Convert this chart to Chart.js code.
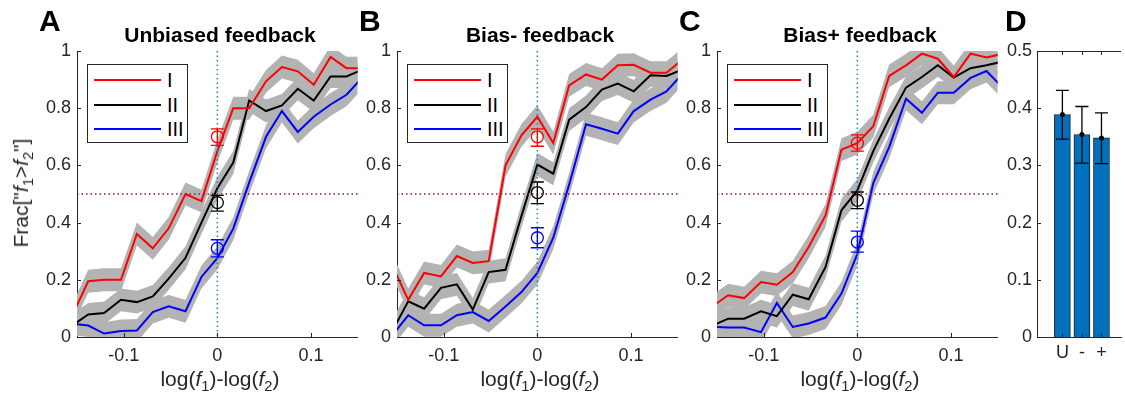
<!DOCTYPE html>
<html>
<head>
<meta charset="utf-8">
<script src="https://cdn.jsdelivr.net/npm/chart.js@4.4.0/dist/chart.umd.min.js"></script>
<style>
  html, body { margin: 0; padding: 0; background: #fff; overflow: hidden; }
  #wrap { position: relative; width: 1125px; height: 402px; font-family: "Liberation Sans", Arial, Helvetica, sans-serif; color: #262626; }
  canvas { position: absolute; top: 0; }
  .lbl { position: absolute; white-space: nowrap; line-height: 24px; }
  .letter { font-weight: bold; font-size: 30px; color: #000; line-height: 30px; }
  .ttl { font-weight: bold; font-size: 21px; color: #000; text-align: center; }
  .xt { font-size: 21px; text-align: center; }
  .yt { font-size: 21px; transform: translate(-50%, -50%) rotate(-90deg); }
  sub { font-size: 70%; vertical-align: -0.35em; line-height: 0; }
  .leg { position: absolute; border: 1px solid #262626; background: #fff; box-sizing: border-box; width: 101px; height: 79px; }
  .leg div { position: absolute; left: 0; height: 24px; line-height: 24px; font-size: 20px; color: #000; }
  .leg span.ln { position: absolute; left: 6px; top: 11px; width: 67px; height: 2px; }
  .leg span.tx { position: absolute; left: 79px; top: 0; }
</style>
</head>
<body>
<div id="wrap"></div>
<script>
// bins of log(f1)-log(f2)
const xBins = [-0.155, -0.138, -0.121, -0.103, -0.086, -0.069, -0.052, -0.034, -0.017, 0,
               0.017, 0.034, 0.052, 0.069, 0.086, 0.103, 0.121, 0.138, 0.155];
const xTicks = [-0.1, 0, 0.1];
const seriesNames = ["I", "II", "III"];
const seriesColors = ["#ff0000", "#000000", "#0000ff"];
const bandErr = 0.04;

// A - unbiased feedback
const unbiasedI   = [0.075, 0.195, 0.20, 0.20, 0.36, 0.31, 0.38, 0.50, 0.475, 0.65, 0.80, 0.80, 0.894, 0.944, 0.929, 0.882, 0.979, 0.94, 0.94];
const unbiasedII  = [0.04, 0.079, 0.084, 0.13, 0.122, 0.142, 0.204, 0.277, 0.40, 0.52, 0.61, 0.827, 0.79, 0.81, 0.868, 0.827, 0.911, 0.911, 0.935];
const unbiasedIII = [0.046, 0.04, 0.012, 0.021, 0.023, 0.087, 0.107, 0.09, 0.21, 0.276, 0.379, 0.54, 0.70, 0.79, 0.717, 0.77, 0.813, 0.847, 0.907];
const unbiasedPt = [0.70, 0.47, 0.31];
const unbiasedLo = [0.67, 0.44, 0.28];
const unbiasedHi = [0.728, 0.495, 0.34];

// B - bias- feedback
const minusI   = [0.25, 0.13, 0.224, 0.212, 0.283, 0.259, 0.265, 0.60, 0.705, 0.77, 0.678, 0.88, 0.918, 0.90, 0.95, 0.952, 0.924, 0.924, 0.97];
const minusII  = [0.02, 0.125, 0.099, 0.172, 0.184, 0.096, 0.227, 0.235, 0.423, 0.603, 0.571, 0.76, 0.804, 0.865, 0.886, 0.859, 0.915, 0.913, 0.935];
const minusIII = [0.006, 0.076, 0.041, 0.041, 0.076, 0.087, 0.056, 0.107, 0.157, 0.224, 0.347, 0.533, 0.744, 0.728, 0.711, 0.79, 0.83, 0.859, 0.92];
const minusPt = [0.70, 0.505, 0.347];
const minusLo = [0.667, 0.466, 0.312];
const minusHi = [0.728, 0.542, 0.382];

// C - bias+ feedback
const plusI   = [0.107, 0.146, 0.136, 0.192, 0.183, 0.227, 0.315, 0.425, 0.655, 0.678, 0.737, 0.913, 0.95, 0.991, 0.973, 0.909, 0.991, 0.977, 0.99];
const plusII  = [0.04, 0.064, 0.064, 0.09, 0.073, 0.148, 0.132, 0.245, 0.443, 0.513, 0.65, 0.763, 0.872, 0.909, 0.95, 0.907, 0.94, 0.95, 0.963];
const plusIII = [0.036, 0.033, 0.033, 0.017, 0.119, 0.035, 0.047, 0.068, 0.152, 0.291, 0.538, 0.664, 0.833, 0.784, 0.854, 0.854, 0.906, 0.93, 0.873];
const plusPt = [0.678, 0.478, 0.332];
const plusLo = [0.65, 0.449, 0.297];
const plusHi = [0.707, 0.507, 0.37];

// D - bars
const dLabels = ["U", "-", "+"];
const dMean = [0.389, 0.354, 0.348];
const dLo = [0.346, 0.304, 0.303];
const dHi = [0.431, 0.403, 0.392];

Chart.defaults.font.family = '"Liberation Sans", Arial, Helvetica, sans-serif';
Chart.defaults.font.size = 18;
Chart.defaults.color = "#262626";

const wrap = document.getElementById("wrap");
const plainNum = (v) => String(Math.round(v * 100) / 100);

// dotted reference lines, error bars, inward ticks
const extras = {
  id: "extras",
  afterDatasetsDraw(chart) {
    const ctx = chart.ctx, a = chart.chartArea;
    const xs = chart.scales.x, ys = chart.scales.y;
    const o = chart.options.plugins.extras || {};
    ctx.save();
    if (o.refLines) {
      ctx.lineWidth = 1.5;
      ctx.setLineDash([1.5, 3]);
      const y5 = ys.getPixelForValue(0.5);
      ctx.strokeStyle = "#a2142f";
      ctx.beginPath(); ctx.moveTo(a.left, y5); ctx.lineTo(a.right, y5); ctx.stroke();
      const x0 = xs.getPixelForValue(0);
      ctx.strokeStyle = "#1f80c8";
      ctx.beginPath(); ctx.moveTo(x0, a.top); ctx.lineTo(x0, a.bottom); ctx.stroke();
      ctx.setLineDash([]);
    }
    chart.data.datasets.forEach((ds) => {
      if (!ds.errLo) return;
      ctx.strokeStyle = ds.errColor;
      ctx.lineWidth = 1.3;
      ds.data.forEach((p, j) => {
        const px = xs.getPixelForValue(p.x);
        const y1 = ys.getPixelForValue(ds.errLo[j]);
        const y2 = ys.getPixelForValue(ds.errHi[j]);
        ctx.beginPath();
        ctx.moveTo(px, y1); ctx.lineTo(px, y2);
        ctx.moveTo(px - 6.5, y1); ctx.lineTo(px + 6.5, y1);
        ctx.moveTo(px - 6.5, y2); ctx.lineTo(px + 6.5, y2);
        ctx.stroke();
      });
    });
    ctx.restore();
  },
  afterDraw(chart) {
    const ctx = chart.ctx, a = chart.chartArea;
    const xs = chart.scales.x, ys = chart.scales.y;
    const o = chart.options.plugins.extras || {};
    ctx.save();
    ctx.strokeStyle = "#262626";
    ctx.lineWidth = 1;
    ctx.beginPath();
    xs.ticks.forEach((t) => {
      const px = Math.round(xs.getPixelForValue(t.value)) + 0.5;
      ctx.moveTo(px, a.bottom); ctx.lineTo(px, a.bottom - 4);
      if (o.box) { ctx.moveTo(px, a.top); ctx.lineTo(px, a.top + 4); }
    });
    ys.ticks.forEach((t) => {
      const py = Math.round(ys.getPixelForValue(t.value)) + 0.5;
      ctx.moveTo(a.left, py); ctx.lineTo(a.left + 4, py);
    });
    if (o.box) {
      const ty = Math.round(a.top) + 0.5;
      ctx.moveTo(a.left, ty); ctx.lineTo(a.right, ty);
    }
    ctx.stroke();
    ctx.restore();
  }
};

function addText(cls, html, left, top, extra) {
  const d = document.createElement("div");
  d.className = "lbl " + cls;
  d.innerHTML = html;
  d.style.left = left + "px";
  d.style.top = top + "px";
  if (extra) Object.assign(d.style, extra);
  wrap.appendChild(d);
}

function addCanvas(left, width) {
  const c = document.createElement("canvas");
  c.width = width;
  c.height = 402;
  c.style.left = left + "px";
  wrap.appendChild(c);
  return c;
}

function pts(vals, shift) {
  return vals.map((v, i) => ({ x: xBins[i], y: v + shift }));
}

function linePanel(letter, title, plotLeft, series, marks, lo, hi) {
  const canvas = addCanvas(plotLeft - 45, 333);
  const datasets = [];
  series.forEach((vals) => {
    datasets.push({ data: pts(vals, bandErr), borderWidth: 0, pointRadius: 0, fill: false, order: 3 });
    datasets.push({ data: pts(vals, -bandErr), borderWidth: 0, pointRadius: 0, fill: "-1",
                    backgroundColor: "#b3b3b3", order: 3 });
  });
  series.forEach((vals, s) => {
    datasets.push({ label: seriesNames[s], data: pts(vals, 0), borderColor: seriesColors[s],
                    borderWidth: 2, pointRadius: 0, fill: false, order: 2 });
  });
  marks.forEach((v, s) => {
    datasets.push({ data: [{ x: 0, y: v }], showLine: false, pointRadius: 6, pointBorderWidth: 1.3,
                    pointBorderColor: seriesColors[s], pointBackgroundColor: "rgba(0,0,0,0)",
                    errLo: [lo[s]], errHi: [hi[s]], errColor: seriesColors[s], order: 1 });
  });

  new Chart(canvas.getContext("2d"), {
    type: "line",
    data: { datasets: datasets },
    options: {
      responsive: false,
      animation: false,
      layout: { padding: { top: 51, bottom: 35, left: 0, right: 2 } },
      plugins: { legend: { display: false }, tooltip: { enabled: false }, extras: { refLines: true } },
      scales: {
        x: {
          type: "linear", min: -0.15, max: 0.15,
          afterBuildTicks: (s) => { s.ticks = xTicks.map((v) => ({ value: v })); },
          afterFit: (s) => { s.height = 30; },
          grid: { display: false, drawTicks: false },
          border: { color: "#262626", width: 1 },
          ticks: { padding: 8, maxRotation: 0, autoSkip: false, callback: plainNum }
        },
        y: {
          min: 0, max: 1,
          afterFit: (s) => { s.width = 45; },
          grid: { display: false, drawTicks: false },
          border: { color: "#262626", width: 1 },
          ticks: { stepSize: 0.2, padding: 6, callback: plainNum }
        }
      }
    },
    plugins: [extras]
  });

  const mid = plotLeft + 143;
  addText("letter", letter, plotLeft - 38, 6);
  addText("ttl", title, mid - 150, 23, { width: "300px" });
  addText("xt", "log(<i>f</i><sub>1</sub>)-log(<i>f</i><sub>2</sub>)", mid - 150, 367, { width: "300px" });

  // legend
  const leg = document.createElement("div");
  leg.className = "leg";
  leg.style.left = (plotLeft + 10) + "px";
  leg.style.top = "64px";
  seriesNames.forEach((n, s) => {
    const row = document.createElement("div");
    row.style.top = (3 + s * 24.5) + "px";
    row.style.width = "100%";
    row.innerHTML = '<span class="ln" style="background:' + seriesColors[s] + '"></span><span class="tx">' + n + "</span>";
    leg.appendChild(row);
  });
  wrap.appendChild(leg);
}

linePanel("A", "Unbiased feedback", 77, [unbiasedI, unbiasedII, unbiasedIII], unbiasedPt, unbiasedLo, unbiasedHi);
linePanel("B", "Bias- feedback", 397, [minusI, minusII, minusIII], minusPt, minusLo, minusHi);
linePanel("C", "Bias+ feedback", 717, [plusI, plusII, plusIII], plusPt, plusLo, plusHi);

addText("yt", 'Frac["<i>f</i><sub>1</sub>&gt;<i>f</i><sub>2</sub>"]', 21, 193);

// D - bar panel
const dCanvas = addCanvas(992, 133);
const dPoints = dMean.map((v, i) => ({ x: i + 1, y: v }));
new Chart(dCanvas.getContext("2d"), {
  type: "bar",
  data: {
    datasets: [
      { type: "line", data: dPoints, showLine: false, pointRadius: 2.5, pointBackgroundColor: "#000",
        pointBorderWidth: 0, errLo: dLo, errHi: dHi, errColor: "#000", order: 1 },
      { data: dPoints, backgroundColor: "#0072bd", borderColor: "#1a1a1a", borderWidth: 1,
        barThickness: 16, grouped: false, order: 2 }
    ]
  },
  options: {
    responsive: false,
    animation: false,
    layout: { padding: { top: 51, bottom: 35, left: 0, right: 0 } },
    plugins: { legend: { display: false }, tooltip: { enabled: false }, extras: { box: true } },
    scales: {
      x: {
        type: "linear", min: -0.3, max: 4, offset: false,
        afterBuildTicks: (s) => { s.ticks = dLabels.map((l, i) => ({ value: i + 1 })); },
        afterFit: (s) => { s.height = 30; },
        grid: { display: false, drawTicks: false, offset: false },
        border: { color: "#262626", width: 1 },
        ticks: { padding: 5, maxRotation: 0, autoSkip: false, callback: (v) => dLabels[v - 1] }
      },
      y: {
        min: 0, max: 0.5,
        afterFit: (s) => { s.width = 45; },
        grid: { display: false, drawTicks: false },
        border: { color: "#262626", width: 1 },
        ticks: { stepSize: 0.1, padding: 5, callback: plainNum }
      }
    }
  },
  plugins: [extras]
});
addText("letter", "D", 1005, 6);
</script>
</body>
</html>
